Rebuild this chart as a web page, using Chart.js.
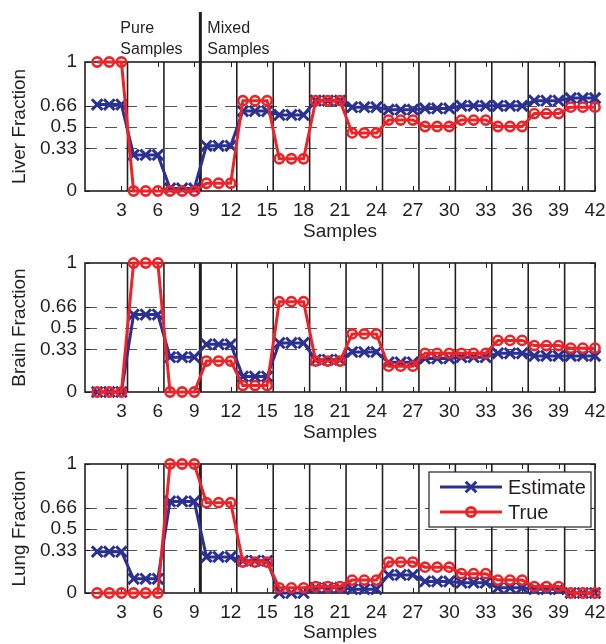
<!DOCTYPE html>
<html>
<head>
<meta charset="utf-8">
<script src="https://cdn.jsdelivr.net/npm/chart.js@4.4.0/dist/chart.umd.min.js"></script>
<style>
  html, body { margin: 0; padding: 0; background: #fff; }
  #wrap { position: relative; width: 606px; height: 644px; }
  canvas { position: absolute; left: 0; }
</style>
</head>
<body>
<div id="wrap">
  <canvas id="liverChart" width="606" height="243" style="top:0px"></canvas>
  <canvas id="brainChart" width="606" height="201" style="top:243px"></canvas>
  <canvas id="lungChart" width="606" height="200" style="top:444px"></canvas>
</div>
<script>
var samples = [1, 2, 3, 4, 5, 6, 7, 8, 9, 10, 11, 12, 13, 14, 15, 16, 17, 18, 19, 20, 21,
               22, 23, 24, 25, 26, 27, 28, 29, 30, 31, 32, 33, 34, 35, 36, 37, 38, 39, 40, 41, 42];
var xTicks = [3, 6, 9, 12, 15, 18, 21, 24, 27, 30, 33, 36, 39, 42];
var yTicks = [0, 0.33, 0.5, 0.66, 1];
var groupEdges = [3.5, 6.5, 9.5, 12.5, 15.5, 18.5, 21.5, 24.5, 27.5, 30.5, 33.5, 36.5, 39.5];
var pureMixedEdge = 9.5;

var liverEstimate = [0.67, 0.67, 0.67, 0.28, 0.28, 0.28, 0.02, 0.02, 0.02, 0.35, 0.35, 0.35,
                     0.62, 0.62, 0.62, 0.59, 0.59, 0.59, 0.70, 0.70, 0.70, 0.65, 0.65, 0.65,
                     0.63, 0.63, 0.63, 0.64, 0.64, 0.64, 0.66, 0.66, 0.66, 0.66, 0.66, 0.66,
                     0.70, 0.70, 0.70, 0.72, 0.72, 0.72];
var liverTrue = [1, 1, 1, 0, 0, 0, 0, 0, 0, 0.06, 0.06, 0.06,
                 0.70, 0.70, 0.70, 0.25, 0.25, 0.25, 0.70, 0.70, 0.70, 0.45, 0.45, 0.45,
                 0.55, 0.55, 0.55, 0.50, 0.50, 0.50, 0.55, 0.55, 0.55, 0.50, 0.50, 0.50,
                 0.60, 0.60, 0.60, 0.65, 0.65, 0.65];

var brainEstimate = [0, 0, 0, 0.60, 0.60, 0.60, 0.27, 0.27, 0.27, 0.37, 0.37, 0.37,
                     0.12, 0.12, 0.12, 0.38, 0.38, 0.38, 0.25, 0.25, 0.25, 0.31, 0.31, 0.31,
                     0.23, 0.23, 0.23, 0.26, 0.26, 0.26, 0.27, 0.27, 0.27, 0.30, 0.30, 0.30,
                     0.28, 0.28, 0.28, 0.28, 0.28, 0.28];
var brainTrue = [0, 0, 0, 1, 1, 1, 0, 0, 0, 0.24, 0.24, 0.24,
                 0.05, 0.05, 0.05, 0.70, 0.70, 0.70, 0.24, 0.24, 0.24, 0.45, 0.45, 0.45,
                 0.20, 0.20, 0.20, 0.30, 0.30, 0.30, 0.30, 0.30, 0.30, 0.40, 0.40, 0.40,
                 0.36, 0.36, 0.36, 0.34, 0.34, 0.34];

var lungEstimate = [0.32, 0.32, 0.32, 0.11, 0.11, 0.11, 0.71, 0.71, 0.71, 0.28, 0.28, 0.28,
                    0.25, 0.25, 0.25, 0, 0, 0, 0.04, 0.04, 0.04, 0.03, 0.03, 0.03,
                    0.14, 0.14, 0.14, 0.09, 0.09, 0.09, 0.08, 0.08, 0.08, 0.04, 0.04, 0.04,
                    0.03, 0.03, 0.03, 0, 0, 0];
var lungTrue = [0, 0, 0, 0, 0, 0, 1, 1, 1, 0.70, 0.70, 0.70,
                0.24, 0.24, 0.24, 0.04, 0.04, 0.04, 0.05, 0.05, 0.05, 0.10, 0.10, 0.10,
                0.24, 0.24, 0.24, 0.20, 0.20, 0.20, 0.15, 0.15, 0.15, 0.10, 0.10, 0.10,
                0.05, 0.05, 0.05, 0, 0, 0];

var blue = '#2B3192';
var red = '#EE2328';
var ink = '#231F20';

Chart.defaults.font.family = "'Liberation Sans', Arial, sans-serif";
Chart.defaults.color = ink;

function toPoints(vals) {
    return vals.map(function (v, i) { return { x: samples[i], y: v }; });
}

// separators, dashed lines, frame, captions and legend
var framePlugin = {
    id: 'frame',
    beforeDatasetsDraw: function (chart, args, opts) {
        var ctx = chart.ctx, a = chart.chartArea;
        var xs = chart.scales.x, ys = chart.scales.y;
        ctx.save();

        ctx.strokeStyle = '#555';
        ctx.lineWidth = 1.2;
        ctx.setLineDash([12, 8]);
        yTicks.forEach(function (v) {
            if (v <= 0 || v >= 1) return;
            var y = Math.round(ys.getPixelForValue(v)) + 0.5;
            ctx.beginPath();
            ctx.moveTo(a.left, y);
            ctx.lineTo(a.right, y);
            ctx.stroke();
        });
        ctx.setLineDash([]);

        ctx.strokeStyle = ink;
        groupEdges.forEach(function (v) {
            var x = xs.getPixelForValue(v);
            var thick = v === pureMixedEdge;
            ctx.lineWidth = thick ? 3 : 1.6;
            ctx.beginPath();
            ctx.moveTo(x, thick && opts.extendTop != null ? opts.extendTop : a.top);
            ctx.lineTo(x, a.bottom);
            ctx.stroke();
        });

        // inward ticks, like matlab
        ctx.lineWidth = 1;
        xTicks.forEach(function (v) {
            var x = Math.round(xs.getPixelForValue(v)) + 0.5;
            ctx.beginPath();
            ctx.moveTo(x, a.bottom); ctx.lineTo(x, a.bottom - 5);
            ctx.moveTo(x, a.top); ctx.lineTo(x, a.top + 5);
            ctx.stroke();
        });
        yTicks.forEach(function (v) {
            var y = Math.round(ys.getPixelForValue(v)) + 0.5;
            ctx.beginPath();
            ctx.moveTo(a.left, y); ctx.lineTo(a.left + 5, y);
            ctx.moveTo(a.right, y); ctx.lineTo(a.right - 5, y);
            ctx.stroke();
        });

        ctx.lineWidth = 1.6;
        ctx.strokeRect(a.left, a.top, a.right - a.left, a.bottom - a.top);

        if (opts.captions) {
            var edge = xs.getPixelForValue(pureMixedEdge);
            ctx.fillStyle = ink;
            ctx.font = "16px 'Liberation Sans', Arial, sans-serif";
            ctx.textAlign = 'left';
            ctx.textBaseline = 'alphabetic';
            ctx.fillText('Pure', edge - 80, 33);
            ctx.fillText('Samples', edge - 80, 54);
            ctx.fillText('Mixed', edge + 7, 33);
            ctx.fillText('Samples', edge + 7, 54);
        }
        ctx.restore();
    },
    afterDatasetsDraw: function (chart, args, opts) {
        if (!opts.legend) return;
        var ctx = chart.ctx, a = chart.chartArea;
        var w = 162, h = 55;
        var bx = a.right - 4 - w, by = a.top + 8;
        ctx.save();
        ctx.fillStyle = '#fff';
        ctx.fillRect(bx, by, w, h);
        ctx.strokeStyle = ink;
        ctx.lineWidth = 1.2;
        ctx.strokeRect(bx, by, w, h);

        var entries = [
            { text: 'Estimate', color: blue, style: 'crossRot', radius: 7.5 },
            { text: 'True', color: red, style: 'circle', radius: 4.6 }
        ];
        entries.forEach(function (e, i) {
            var y = by + 15 + i * 25;
            ctx.strokeStyle = e.color;
            ctx.lineWidth = 3;
            ctx.beginPath();
            ctx.moveTo(bx + 11, y);
            ctx.lineTo(bx + 73, y);
            ctx.stroke();
            ctx.lineWidth = 3;
            ctx.fillStyle = 'rgba(0,0,0,0)';
            Chart.helpers.drawPoint(ctx, { pointStyle: e.style, radius: e.radius, borderWidth: 3, rotation: 0 }, bx + 42, y);
            ctx.fillStyle = ink;
            ctx.font = "20px 'Liberation Sans', Arial, sans-serif";
            ctx.textAlign = 'left';
            ctx.textBaseline = 'middle';
            ctx.fillText(e.text, bx + 79, y + 1);
        });
        ctx.restore();
    }
};

function makeChart(id, yLabel, estimate, truth, cfg) {
    var ctx = document.getElementById(id).getContext('2d');
    return new Chart(ctx, {
        type: 'line',
        data: {
            datasets: [{
                label: 'True',
                data: toPoints(truth),
                borderColor: red,
                backgroundColor: 'rgba(0,0,0,0)',
                borderWidth: 3,
                pointStyle: 'circle',
                pointRadius: 4.6,
                pointBorderWidth: 2.6,
                pointBorderColor: red,
                pointBackgroundColor: 'rgba(0,0,0,0)',
                tension: 0,
                clip: false,
                order: 0
            }, {
                label: 'Estimate',
                data: toPoints(estimate),
                borderColor: blue,
                backgroundColor: 'rgba(0,0,0,0)',
                borderWidth: 3,
                pointStyle: 'crossRot',
                pointRadius: 7.5,
                pointBorderWidth: 3,
                pointBorderColor: blue,
                tension: 0,
                clip: false,
                order: 1
            }]
        },
        options: {
            responsive: false,
            animation: false,
            devicePixelRatio: 1,
            layout: { padding: { top: cfg.top, right: 11, left: 0, bottom: 0 } },
            plugins: {
                legend: { display: false },
                tooltip: { enabled: false },
                frame: { captions: cfg.captions, extendTop: cfg.extendTop, legend: cfg.legend }
            },
            scales: {
                x: {
                    type: 'linear',
                    min: 0,
                    max: 42,
                    grid: { display: false, drawTicks: false },
                    border: { display: false },
                    afterBuildTicks: function (s) { s.ticks = xTicks.map(function (v) { return { value: v }; }); },
                    afterFit: function (s) {
                        s.height = cfg.axisHeight;
                        s.paddingLeft = 0;
                        s.paddingRight = 0;
                    },
                    ticks: {
                        autoSkip: false,
                        maxRotation: 0,
                        padding: 8,
                        color: ink,
                        font: { size: 19 },
                        callback: function (v) { return String(v); }
                    },
                    title: {
                        display: true,
                        text: 'Samples',
                        color: ink,
                        font: { size: 19 },
                        padding: { top: 0, bottom: cfg.titleBottom }
                    }
                },
                y: {
                    min: 0,
                    max: 1,
                    grid: { display: false, drawTicks: false },
                    border: { display: false },
                    afterBuildTicks: function (s) { s.ticks = yTicks.map(function (v) { return { value: v }; }); },
                    afterFit: function (s) { s.width = 85; },
                    ticks: {
                        padding: 8,
                        color: ink,
                        font: { size: 19 },
                        callback: function (v) { return String(v); }
                    },
                    title: {
                        display: true,
                        text: yLabel,
                        color: ink,
                        font: { size: 19 },
                        padding: { top: 8, bottom: 0 }
                    }
                }
            }
        },
        plugins: [framePlugin]
    });
}

makeChart('liverChart', 'Liver Fraction', liverEstimate, liverTrue,
    { top: 62, axisHeight: 52, titleBottom: 0, captions: true, extendTop: 12 });
makeChart('brainChart', 'Brain Fraction', brainEstimate, brainTrue,
    { top: 20, axisHeight: 52, titleBottom: 0 });
makeChart('lungChart', 'Lung Fraction', lungEstimate, lungTrue,
    { top: 20, axisHeight: 51, titleBottom: 0, legend: true });
</script>
</body>
</html>
